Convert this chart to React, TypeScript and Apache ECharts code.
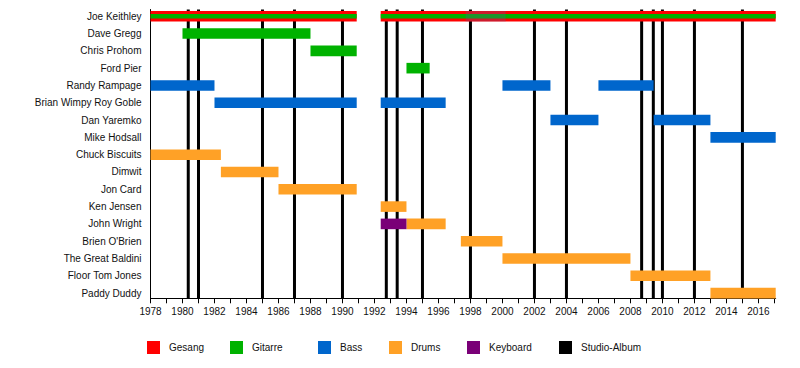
import React, { useEffect, useRef } from "react";
import * as echarts from "echarts";

const members = [
  "Joe Keithley",
  "Dave Gregg",
  "Chris Prohom",
  "Ford Pier",
  "Randy Rampage",
  "Brian Wimpy Roy Goble",
  "Dan Yaremko",
  "Mike Hodsall",
  "Chuck Biscuits",
  "Dimwit",
  "Jon Card",
  "Ken Jensen",
  "John Wright",
  "Brien O'Brien",
  "The Great Baldini",
  "Floor Tom Jones",
  "Paddy Duddy",
];

// [row, start, end, thin]
const gesang = [
  [0, 1978, 1990.89, 0],
  [0, 1992.39, 2017.08, 0],
];
const gitarre = [
  [0, 1978, 1990.89, 1],
  [0, 1992.39, 2017.08, 1],
  [1, 1980, 1988, 0],
  [2, 1988, 1990.89, 0],
  [3, 1994, 1995.45, 0],
];
const bass = [
  [4, 1978, 1982, 0],
  [4, 2000, 2003, 0],
  [4, 2006, 2009.45, 0],
  [5, 1982, 1990.89, 0],
  [5, 1992.39, 1996.45, 0],
  [6, 2003, 2006, 0],
  [6, 2009.45, 2013, 0],
  [7, 2013, 2017.08, 0],
];
const drums = [
  [8, 1978, 1982.4, 0],
  [9, 1982.4, 1986, 0],
  [10, 1986, 1990.89, 0],
  [11, 1992.39, 1994, 0],
  [12, 1994, 1996.45, 0],
  [13, 1997.4, 2000, 0],
  [14, 2000, 2008, 0],
  [15, 2008, 2013, 0],
  [16, 2013, 2017.08, 0],
];
const keyboard = [[12, 1992.39, 1994, 0]];
const joeOverlay = [[0, 1997.7, 2000.2, 0]];
const studioAlbums = [
  1980.36, 1981, 1985, 1987, 1990, 1992.74, 1993.42, 1995, 1998, 2002, 2004,
  2008.7, 2009.43, 2010, 2012, 2015,
];

const xMin = 1978;
const xMax = 2017.08;

const COLORS: Record<string, string> = {
  Gesang: "#FF0000",
  Gitarre: "#00B200",
  Bass: "#0066CC",
  Drums: "#FFA126",
  Keyboard: "#7A0077",
  "Studio-Album": "#000000",
};

const legendLeft: Record<string, number> = {
  Gesang: 147,
  Gitarre: 230,
  Bass: 318,
  Drums: 389,
  Keyboard: 467,
  "Studio-Album": 559,
};

function barSeries(name: string, data: number[][], color: string, z = 2) {
  return {
    type: "custom",
    name,
    z,
    itemStyle: { color },
    encode: { x: [1, 2], y: 0 },
    data,
    renderItem: (params: any, api: any) => {
      const row = api.value(0);
      const s = api.coord([api.value(1), row]);
      const e = api.coord([api.value(2), row]);
      const h = api.value(3) ? 4.3 : 10.6;
      return {
        type: "rect",
        shape: { x: s[0], y: s[1] - h / 2, width: e[0] - s[0], height: h },
        style: { fill: color },
      };
    },
  };
}

export default function App() {
  const ref = useRef<HTMLDivElement>(null);
  useEffect(() => {
    if (!ref.current) return;
    const chart = echarts.init(ref.current, null, { renderer: "svg" });
    const font = "Liberation Sans, Arial, sans-serif";
    const legendNames = Object.keys(COLORS);
    chart.setOption({
      animation: false,
      textStyle: { fontFamily: font },
      grid: { left: 150.5, top: 9.5, width: 625.2, height: 288.8 },
      xAxis: {
        type: "value",
        min: xMin,
        max: xMax,
        interval: 1,
        splitLine: { show: false },
        axisLine: { show: true, onZero: false, lineStyle: { color: "#000", width: 1 } },
        axisTick: { show: true, inside: false, length: 5, lineStyle: { color: "#000", width: 1 } },
        axisLabel: {
          color: "#111",
          fontSize: 10,
          fontFamily: font,
          margin: 8,
          showMaxLabel: false,
          formatter: (v: number) =>
            Math.abs(v - Math.round(v)) < 1e-6 && Math.round(v) % 2 === 0
              ? String(Math.round(v))
              : "",
        },
      },
      yAxis: {
        type: "value",
        inverse: true,
        min: -0.39,
        max: 16.3,
        splitLine: { show: false },
        axisLine: { show: true, onZero: false, lineStyle: { color: "#000", width: 1 } },
        axisTick: { show: false },
        axisLabel: {
          customValues: members.map((_, i) => i),
          color: "#111",
          fontSize: 10,
          fontFamily: font,
          margin: 9,
          formatter: (v: number) => members[Math.round(v)] ?? "",
        },
      },
      legend: legendNames.map((n) => ({
        data: [{ name: n, icon: "rect" }],
        left: legendLeft[n],
        top: 341,
        padding: 0,
        itemWidth: 13,
        itemHeight: 13,
        selectedMode: false,
        textStyle: {
          fontSize: 10,
          color: "#111",
          fontFamily: font,
          padding: [0, 0, 0, 4],
        },
      })),
      series: [
        {
          type: "custom",
          name: "Studio-Album",
          z: 1,
          itemStyle: { color: "#000" },
          encode: { x: 0 },
          data: studioAlbums.map((v) => [v]),
          renderItem: (params: any, api: any) => {
            const p = api.coord([api.value(0), 0]);
            const cs = params.coordSys;
            return {
              type: "line",
              shape: { x1: p[0], y1: cs.y, x2: p[0], y2: cs.y + cs.height },
              style: { stroke: "#000", lineWidth: 3 },
            };
          },
        },
        barSeries("Gesang", gesang, COLORS.Gesang, 3),
        barSeries("Gitarre", gitarre, COLORS.Gitarre, 4),
        barSeries("Bass", bass, COLORS.Bass, 3),
        barSeries("Drums", drums, COLORS.Drums, 3),
        barSeries("Keyboard", keyboard, COLORS.Keyboard, 3),
        barSeries("overlay", joeOverlay, "rgba(90,90,150,0.3)", 5),
      ],
    });
    return () => chart.dispose();
  }, []);
  return (
    <div
      ref={ref}
      style={{ position: "fixed", left: 0, top: 0, width: 800, height: 368, background: "#fff" }}
    />
  );
}
